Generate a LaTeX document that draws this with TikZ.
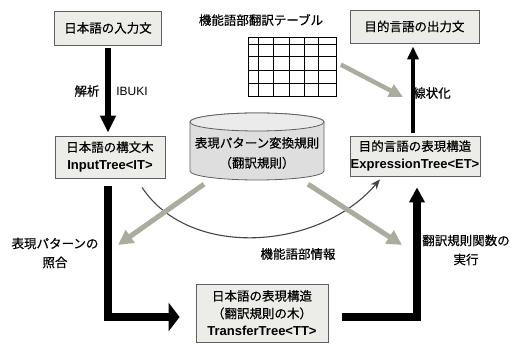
\documentclass[tikz,border=0pt]{standalone}
\usepackage{fontspec}
\setmainfont{Liberation Sans}
\newfontfamily\cjk[FakeBold=0.4]{Noto Sans CJK JP}
\usetikzlibrary{arrows.meta}
\definecolor{boxfill}{RGB}{236,236,232}
\definecolor{boxline}{RGB}{95,95,95}
\definecolor{cylfill}{RGB}{222,222,222}
\definecolor{garrow}{RGB}{172,172,158}
\definecolor{curvec}{RGB}{70,70,70}
\newcommand{\latb}[1]{{\normalfont\bfseries\fontsize{13}{18}\selectfont #1}}
\begin{document}
\begin{tikzpicture}[x=1pt,y=-1pt,
  jp/.style={font=\cjk\fontsize{12.5}{18}\selectfont},
  box/.style={draw=boxline, fill=boxfill, line width=0.8pt, jp, align=center, inner sep=0pt},
  lbl/.style={jp, align=center, inner sep=0pt},
  blk/.style={draw=black, line width=6pt},
  garr/.style={draw=garrow, line width=5pt, -{Triangle[width=15pt,length=15pt]}},
  grid/.style={draw=black, line width=0.8pt}
]
\useasboundingbox (0,0) rectangle (515,344);
\fill[white] (0,0) rectangle (515,344);

% boxes
\node[box, minimum width=107pt, minimum height=34pt] (in) at (108,28) {日本語の入力文};
\node[box, minimum width=129pt, minimum height=33pt] (out) at (414.5,26.5) {目的言語の出力文};
\node[box, minimum width=110pt, minimum height=42pt] (it) at (110,157) {日本語の構文木\\\latb{InputTree<IT>}};
\node[box, minimum width=130pt, minimum height=40pt] (et) at (415,156) {目的言語の表現構造\\\latb{ExpressionTree<ET>}};
\node[box, minimum width=132pt, minimum height=58pt, font=\cjk\fontsize{12.5}{17.5}\selectfont] (tt) at (262,313) {日本語の表現構造\\（翻訳規則の木）\\\latb{TransferTree<TT>}};

% cylinder
\path[fill=cylfill, draw=boxline, line width=0.8pt] (190,122) -- (190,171)
  arc[start angle=180, end angle=360, x radius=67pt, y radius=9pt] -- (324,122)
  arc[start angle=0, end angle=180, x radius=67pt, y radius=9pt] -- cycle;
\draw[fill=cylfill!60!white, draw=boxline, line width=0.8pt] (257,122) ellipse[x radius=67pt, y radius=9pt];
\node[minimum width=134pt, minimum height=66pt, inner sep=0pt] (db) at (257,146) {};
\node[lbl, font=\cjk\fontsize{12.5}{20}\selectfont] (dbt) at (257,153) {表現パターン変換規則\\（翻訳規則）};

% table
\node[minimum width=88.4pt, minimum height=58.7pt, inner sep=0pt] (tbl) at (292.5,66.65) {};
\foreach \xx in {248.3,258.3,273.3,289.3,304,318.3,336.7}
  \draw[grid] (\xx,37.3) -- (\xx,96);
\foreach \yy in {37.3,44,56.7,70.7,83.3,96}
  \draw[grid] (248.3,\yy) -- (336.7,\yy);
\node[lbl] (tbltitle) at (261,20) {機能語部翻訳テーブル};

% coordinates for free ends
\coordinate (gl) at (118,245);
\coordinate (gr) at (402,245);
\coordinate (gt) at (403,97);

% thin curve
\draw[curvec, line width=1.1pt, -{Stealth[length=10pt,width=8pt]}]
  ([shift={(32pt,-9pt)}]it.south) .. controls (190,260) and (320,250) .. ([shift={(-35pt,-3pt)}]et.south);

% gray arrows
\draw[garr] ([shift={(-53pt,-5pt)}]db.south) -- (gl);
\draw[garr] ([shift={(51pt,-5pt)}]db.south) -- (gr);
\draw[garr, line width=4.5pt, -{Triangle[width=13pt,length=14pt]}] ([shift={(4pt,2pt)}]tbl.east) -- (gt);

% black arrows
\draw[blk, shorten <=3pt, shorten >=3pt, -{Triangle[width=15pt,length=17pt]}] (in.south) -- (in.south |- it.north);
\draw[blk, line width=4pt, shorten <=3pt, shorten >=3pt, -{Triangle[width=11pt,length=13pt]}] ([xshift=-2pt]et.north) -- ([xshift=-2pt]et.north |- out.south);
\draw[blk, line width=8pt, line join=miter, shorten <=8pt, shorten >=16pt, -{Triangle[width=28pt,length=11pt]}] ([xshift=-2pt]it.south) |- ([yshift=-4pt]tt.west);
\draw[blk, line width=8pt, line join=miter, shorten <=14pt, shorten >=11pt, -{Triangle[width=15pt,length=15pt]}] ([yshift=-4pt]tt.east) -| ([xshift=2pt]et.south);

% labels
\node[lbl] (l1) at (87,91) {解析};
\node[inner sep=0pt, font=\fontsize{12}{14}\selectfont] (l2) at (132,91) {IBUKI};
\node[lbl] (l3) at (432,93) {線状化};
\node[lbl, font=\cjk\fontsize{12.5}{19}\selectfont] (l4) at (55,253) {表現パターンの\\照合};
\node[lbl] (l5) at (298,254) {機能語部情報};
\node[lbl, font=\cjk\fontsize{12.5}{19}\selectfont] (l6) at (466,250) {翻訳規則関数の\\実行};
\end{tikzpicture}
\end{document}
